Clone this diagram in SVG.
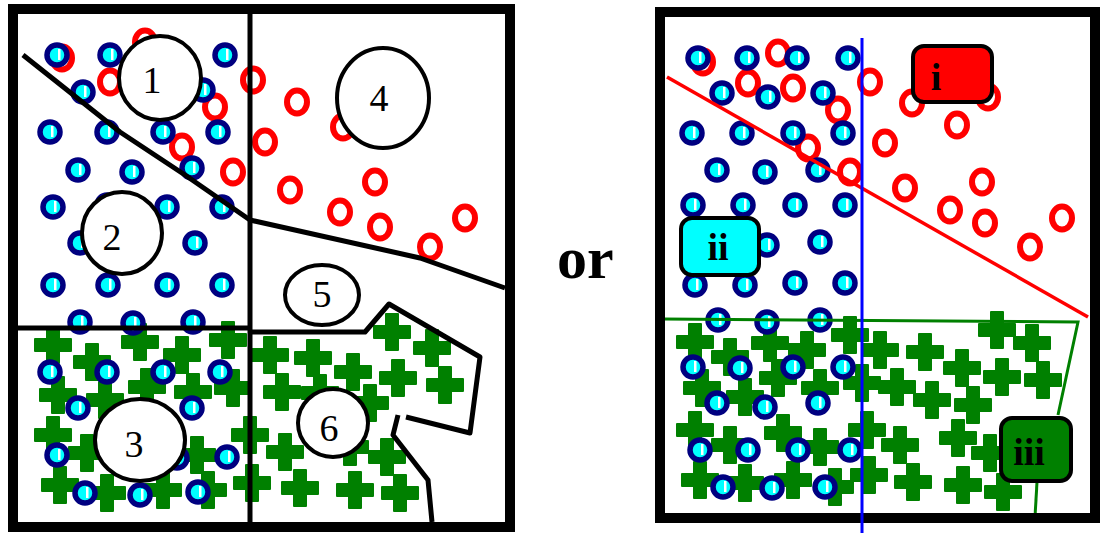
<svg xmlns="http://www.w3.org/2000/svg" xmlns:xlink="http://www.w3.org/1999/xlink" width="1102" height="533" viewBox="0 0 1102 533">
<style>
.frame{fill:none;stroke:#000;stroke-width:10}
.div{fill:none;stroke:#000;stroke-width:5;stroke-linejoin:round}
.lbl{fill:#fff;stroke:#000;stroke-width:4}
.num{font-family:"Liberation Serif",serif;font-size:38px;fill:#000;text-anchor:middle}
.box{stroke:#000;stroke-width:4}
.bt{font-family:"Liberation Serif",serif;font-size:38px;font-weight:bold;fill:#000;text-anchor:middle}
</style>
<defs>
<ellipse id="r" rx="10" ry="11.5" fill="none" stroke="#ff0000" stroke-width="6"/>
<path id="c" d="M-6,-18h12v12h12v12h-12v12h-12v-12h-12v-12h12z" fill="#008000" stroke="#008000" stroke-width="2" stroke-linejoin="round"/>
<g id="b"><circle r="10" fill="#00ffff" stroke="#000080" stroke-width="5.5"/><rect x="1" y="-6" width="2.5" height="11" fill="#fff"/></g>
</defs>
<rect width="1102" height="533" fill="#fff"/>
<g id="left-panel">
<g id="left-red">
<use href="#r" x="145" y="42"/><use href="#r" x="62" y="58"/><use href="#r" x="110" y="82"/><use href="#r" x="215" y="107"/><use href="#r" x="182" y="147"/><use href="#r" x="233" y="172"/><use href="#r" x="253" y="80"/><use href="#r" x="265" y="142"/><use href="#r" x="297" y="102"/><use href="#r" x="343" y="127"/><use href="#r" x="290" y="190"/><use href="#r" x="375" y="182"/><use href="#r" x="340" y="212"/><use href="#r" x="380" y="227"/><use href="#r" x="430" y="247"/><use href="#r" x="465" y="218"/>
</g>
<g id="left-green">
<use href="#c" x="53" y="345"/><use href="#c" x="92" y="362"/><use href="#c" x="140" y="342"/><use href="#c" x="182" y="355"/><use href="#c" x="228" y="340"/><use href="#c" x="58" y="395"/><use href="#c" x="105" y="400"/><use href="#c" x="147" y="387"/><use href="#c" x="193" y="392"/><use href="#c" x="233" y="388"/><use href="#c" x="53" y="435"/><use href="#c" x="87" y="453"/><use href="#c" x="197" y="455"/><use href="#c" x="250" y="435"/><use href="#c" x="60" y="485"/><use href="#c" x="107" y="493"/><use href="#c" x="163" y="490"/><use href="#c" x="208" y="490"/><use href="#c" x="252" y="483"/>
<use href="#c" x="270" y="355"/><use href="#c" x="313" y="358"/><use href="#c" x="353" y="372"/><use href="#c" x="392" y="332"/><use href="#c" x="432" y="348"/><use href="#c" x="398" y="378"/><use href="#c" x="445" y="385"/><use href="#c" x="282" y="392"/><use href="#c" x="320" y="393"/><use href="#c" x="370" y="403"/><use href="#c" x="285" y="452"/><use href="#c" x="350" y="447"/><use href="#c" x="387" y="457"/><use href="#c" x="300" y="488"/><use href="#c" x="355" y="490"/><use href="#c" x="400" y="493"/>
</g>
<g id="left-blue">
<use href="#b" x="57" y="55"/><use href="#b" x="110" y="55"/><use href="#b" x="225" y="55"/><use href="#b" x="83" y="92"/><use href="#b" x="203" y="90"/><use href="#b" x="50" y="132"/><use href="#b" x="107" y="132"/><use href="#b" x="163" y="132"/><use href="#b" x="218" y="132"/><use href="#b" x="78" y="170"/><use href="#b" x="132" y="172"/><use href="#b" x="192" y="168"/><use href="#b" x="53" y="207"/><use href="#b" x="107" y="205"/><use href="#b" x="167" y="207"/><use href="#b" x="222" y="207"/><use href="#b" x="80" y="243"/><use href="#b" x="195" y="243"/><use href="#b" x="53" y="285"/><use href="#b" x="108" y="285"/><use href="#b" x="167" y="285"/><use href="#b" x="222" y="285"/><use href="#b" x="80" y="322"/><use href="#b" x="133" y="323"/><use href="#b" x="193" y="322"/>
<use href="#b" x="50" y="372"/><use href="#b" x="107" y="372"/><use href="#b" x="163" y="372"/><use href="#b" x="220" y="372"/><use href="#b" x="78" y="408"/><use href="#b" x="192" y="408"/><use href="#b" x="57" y="455"/><use href="#b" x="227" y="457"/><use href="#b" x="177" y="458"/><use href="#b" x="85" y="493"/><use href="#b" x="140" y="495"/><use href="#b" x="198" y="492"/>
</g>
<g id="left-boundaries">
<line class="div" x1="250" y1="9" x2="250" y2="527"/>
<polyline class="div" points="23,55 120,132 185,175 250,220"/>
<polyline class="div" points="250,220 420,258 505,288"/>
<line class="div" x1="16" y1="328" x2="250" y2="328"/>
<polyline class="div" points="250,332 365,332 389,304 480,357 470,433 406,417"/>
<polyline class="div" points="398,415 393,435 428,480 432,522"/>
</g>
<rect class="frame" x="13" y="9" width="497" height="518"/>
<g id="n1"><ellipse class="lbl" cx="160" cy="78" rx="41" ry="42"/><text class="num" x="152" y="93">1</text></g>
<g id="n2"><ellipse class="lbl" cx="122" cy="233" rx="40" ry="41"/><text class="num" x="112" y="250">2</text></g>
<g id="n3"><ellipse class="lbl" cx="140" cy="440" rx="45" ry="41"/><text class="num" x="134" y="457">3</text></g>
<g id="n4"><ellipse class="lbl" cx="383" cy="98" rx="46" ry="50"/><text class="num" x="379" y="111">4</text></g>
<g id="n5"><ellipse class="lbl" cx="322" cy="295" rx="37" ry="30"/><text class="num" x="322" y="307">5</text></g>
<g id="n6"><ellipse class="lbl" cx="333" cy="423" rx="35" ry="34"/><text class="num" x="329" y="441">6</text></g>
</g>
<text x="557" y="278" font-family="Liberation Serif, serif" font-size="60" font-weight="bold" fill="#000">or</text>
<g id="right-panel">
<g id="right-red">
<use href="#r" x="703" y="62"/><use href="#r" x="778" y="53"/><use href="#r" x="748" y="83"/><use href="#r" x="793" y="88"/><use href="#r" x="838" y="110"/><use href="#r" x="808" y="148"/><use href="#r" x="850" y="172"/><use href="#r" x="870" y="82"/><use href="#r" x="912" y="103"/><use href="#r" x="988" y="97"/><use href="#r" x="957" y="125"/><use href="#r" x="885" y="143"/><use href="#r" x="905" y="188"/><use href="#r" x="982" y="182"/><use href="#r" x="950" y="210"/><use href="#r" x="985" y="223"/><use href="#r" x="1030" y="247"/><use href="#r" x="1062" y="218"/>
</g>
<g id="right-green">
<use href="#c" x="695" y="342"/><use href="#c" x="730" y="357"/><use href="#c" x="770" y="343"/><use href="#c" x="807" y="350"/><use href="#c" x="850" y="335"/><use href="#c" x="702" y="388"/><use href="#c" x="745" y="397"/><use href="#c" x="778" y="378"/><use href="#c" x="820" y="388"/><use href="#c" x="862" y="383"/><use href="#c" x="695" y="430"/><use href="#c" x="730" y="445"/><use href="#c" x="783" y="433"/><use href="#c" x="820" y="447"/><use href="#c" x="867" y="430"/><use href="#c" x="700" y="480"/><use href="#c" x="745" y="483"/><use href="#c" x="793" y="480"/><use href="#c" x="835" y="487"/><use href="#c" x="869" y="475"/>
<use href="#c" x="880" y="350"/><use href="#c" x="925" y="352"/><use href="#c" x="962" y="368"/><use href="#c" x="997" y="330"/><use href="#c" x="1032" y="343"/><use href="#c" x="1002" y="377"/><use href="#c" x="1043" y="380"/><use href="#c" x="897" y="387"/><use href="#c" x="932" y="400"/><use href="#c" x="973" y="405"/><use href="#c" x="900" y="445"/><use href="#c" x="958" y="438"/><use href="#c" x="990" y="453"/><use href="#c" x="913" y="482"/><use href="#c" x="963" y="485"/><use href="#c" x="1003" y="492"/>
</g>
<g id="right-blue">
<use href="#b" x="698" y="58"/><use href="#b" x="747" y="58"/><use href="#b" x="797" y="58"/><use href="#b" x="848" y="58"/><use href="#b" x="722" y="93"/><use href="#b" x="768" y="97"/><use href="#b" x="823" y="93"/><use href="#b" x="692" y="133"/><use href="#b" x="742" y="133"/><use href="#b" x="793" y="133"/><use href="#b" x="843" y="133"/><use href="#b" x="717" y="170"/><use href="#b" x="765" y="172"/><use href="#b" x="818" y="170"/><use href="#b" x="693" y="205"/><use href="#b" x="743" y="205"/><use href="#b" x="795" y="205"/><use href="#b" x="845" y="205"/><use href="#b" x="767" y="245"/><use href="#b" x="820" y="242"/><use href="#b" x="695" y="285"/><use href="#b" x="745" y="285"/><use href="#b" x="795" y="283"/><use href="#b" x="845" y="283"/><use href="#b" x="718" y="320"/><use href="#b" x="767" y="322"/><use href="#b" x="820" y="320"/><use href="#b" x="693" y="367"/><use href="#b" x="740" y="368"/><use href="#b" x="793" y="367"/><use href="#b" x="843" y="367"/><use href="#b" x="717" y="403"/><use href="#b" x="765" y="407"/><use href="#b" x="818" y="403"/><use href="#b" x="700" y="450"/><use href="#b" x="748" y="450"/><use href="#b" x="798" y="450"/><use href="#b" x="850" y="450"/><use href="#b" x="723" y="487"/><use href="#b" x="772" y="488"/><use href="#b" x="825" y="487"/>
</g>
<g id="right-boundaries">
<line x1="667" y1="77" x2="1088" y2="317" stroke="#ff0000" stroke-width="3.5"/>
<polyline points="663,319 1078,322 1058,415" fill="none" stroke="#008000" stroke-width="3"/>
<line x1="1037" y1="482" x2="1035" y2="517" stroke="#008000" stroke-width="3"/>
</g>
<rect class="frame" x="660" y="12" width="435" height="506"/>
<line x1="862" y1="38" x2="862" y2="533" stroke="#0000ff" stroke-width="3"/>
<g id="ni"><rect class="box" x="913" y="46" width="79" height="56" rx="11" fill="#ff0000"/><text class="bt" x="936" y="90">i</text></g>
<g id="nii"><rect class="box" x="681" y="218" width="78" height="57" rx="11" fill="#00ffff"/><text class="bt" x="718" y="260">ii</text></g>
<g id="niii"><rect class="box" x="1001" y="418" width="70" height="63" rx="11" fill="#008000"/><text class="bt" x="1029" y="465">iii</text></g>
</g>
</svg>
